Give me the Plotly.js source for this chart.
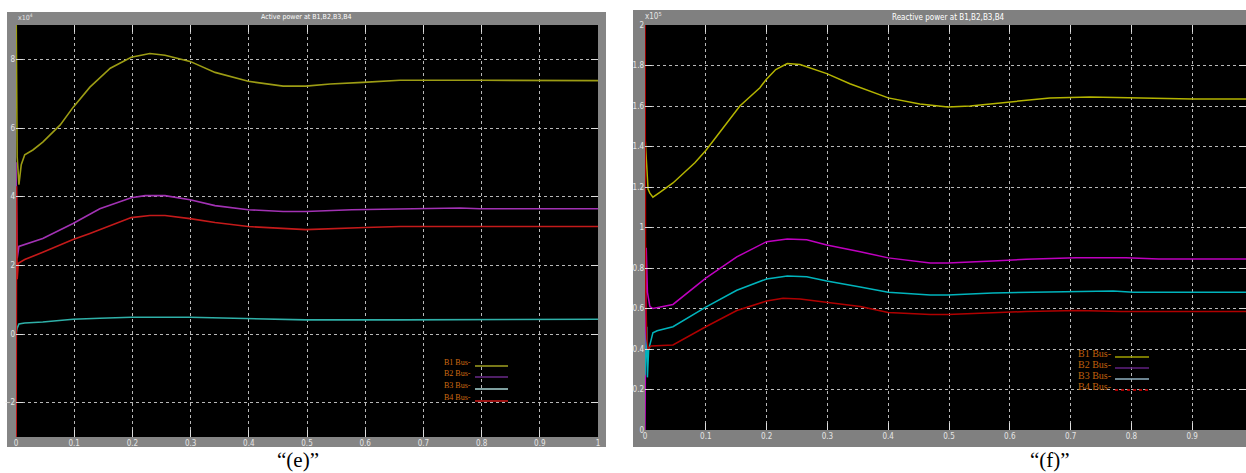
<!DOCTYPE html>
<html>
<head>
<meta charset="utf-8">
<script src="https://cdn.plot.ly/plotly-3.0.1.min.js"></script>
<style>html,body{margin:0;padding:0;background:#fff;}#chart{width:1246px;height:473px;}</style>
</head>
<body>
<div id="chart"></div>
<script>
// ---------- DATA : panel (e) Active power (x10^4) ----------
const eTitle = "Active power at B1,B2,B3,B4";
const fTitle = "Reactive power at B1,B2,B3,B4";
const seriesNames = ["B1 Bus-", "B2 Bus-", "B3 Bus-", "B4 Bus-"];
const xTickVals = [0, 0.1, 0.2, 0.3, 0.4, 0.5, 0.6, 0.7, 0.8, 0.9, 1];
const xTickText = ["0", "0.1", "0.2", "0.3", "0.4", "0.5", "0.6", "0.7", "0.8", "0.9", "1"];
const eYTickVals = [-2, 0, 2, 4, 6, 8];
const fYTickVals = [0, 0.2, 0.4, 0.6, 0.8, 1, 1.2, 1.4, 1.6, 1.8, 2];

const eB1_t = [0, 0.002, 0.005, 0.009, 0.015, 0.029, 0.046, 0.076, 0.098, 0.127, 0.162, 0.198, 0.23, 0.256, 0.299, 0.342, 0.399, 0.459, 0.498, 0.54, 0.596, 0.66, 0.797, 1.0];
const eB1_v = [10, 5.16, 4.35, 4.93, 5.22, 5.36, 5.59, 6.09, 6.6, 7.19, 7.74, 8.06, 8.17, 8.12, 7.94, 7.62, 7.36, 7.22, 7.22, 7.28, 7.33, 7.39, 7.39, 7.38];
const eB2_t = [0, 0.002, 0.005, 0.015, 0.046, 0.098, 0.144, 0.198, 0.222, 0.256, 0.299, 0.342, 0.399, 0.459, 0.498, 0.577, 0.66, 0.763, 0.797, 1.0];
const eB2_v = [5.0, 2.2, 2.55, 2.61, 2.78, 3.22, 3.65, 3.97, 4.03, 4.03, 3.91, 3.74, 3.62, 3.57, 3.57, 3.62, 3.65, 3.67, 3.65, 3.65];
const eB3_t = [0, 0.002, 0.005, 0.015, 0.046, 0.098, 0.144, 0.198, 0.299, 0.399, 0.498, 0.66, 0.93, 0.935, 1.0];
const eB3_v = [0, 0.17, 0.29, 0.32, 0.35, 0.43, 0.46, 0.49, 0.49, 0.46, 0.41, 0.41, 0.41, 0.43, 0.43];
const eB4_t = [0, 0.001, 0.002, 0.004, 0.015, 0.046, 0.098, 0.127, 0.144, 0.198, 0.23, 0.256, 0.299, 0.342, 0.399, 0.459, 0.498, 0.6, 0.66, 1.0];
const eB4_v = [-5, 4.3, 1.6, 2.06, 2.17, 2.38, 2.75, 2.93, 3.04, 3.39, 3.45, 3.45, 3.36, 3.25, 3.13, 3.07, 3.04, 3.10, 3.13, 3.13];

// ---------- DATA : panel (f) Reactive power (x10^5) ----------
const fB1_t = [0, 0.003, 0.004, 0.005, 0.008, 0.013, 0.025, 0.046, 0.082, 0.1, 0.123, 0.156, 0.189, 0.199, 0.215, 0.234, 0.255, 0.299, 0.337, 0.4, 0.452, 0.498, 0.535, 0.599, 0.666, 0.732, 0.799, 0.9, 1.0];
const fB1_v = [1.45, 1.31, 1.22, 1.19, 1.17, 1.15, 1.175, 1.22, 1.32, 1.38, 1.47, 1.60, 1.69, 1.73, 1.78, 1.81, 1.805, 1.76, 1.71, 1.64, 1.61, 1.595, 1.60, 1.62, 1.64, 1.645, 1.64, 1.635, 1.635];
const fB2_t = [0, 0.002, 0.004, 0.008, 0.013, 0.046, 0.1, 0.151, 0.2, 0.234, 0.266, 0.299, 0.354, 0.4, 0.469, 0.498, 0.572, 0.627, 0.709, 0.791, 0.845, 1.0];
const fB2_v = [0, 0.9, 0.68, 0.61, 0.6, 0.62, 0.75, 0.855, 0.93, 0.943, 0.94, 0.914, 0.88, 0.85, 0.825, 0.825, 0.835, 0.843, 0.85, 0.85, 0.845, 0.845];
const fB3_t = [0, 0.003, 0.004, 0.006, 0.008, 0.013, 0.02, 0.046, 0.1, 0.151, 0.2, 0.234, 0.266, 0.299, 0.354, 0.4, 0.469, 0.498, 0.572, 0.627, 0.709, 0.77, 0.803, 1.0];
const fB3_v = [0.27, 0.51, 0.26, 0.395, 0.42, 0.48, 0.49, 0.51, 0.607, 0.69, 0.746, 0.76, 0.757, 0.736, 0.706, 0.68, 0.667, 0.667, 0.677, 0.68, 0.686, 0.686, 0.68, 0.68];
const fB4_t = [0, 0.001, 0.003, 0.005, 0.01, 0.046, 0.1, 0.151, 0.2, 0.227, 0.255, 0.299, 0.354, 0.4, 0.469, 0.498, 0.572, 0.627, 0.712, 0.783, 1.0];
const fB4_v = [2.2, 0.7, 0.45, 0.4, 0.415, 0.42, 0.51, 0.59, 0.637, 0.65, 0.647, 0.63, 0.61, 0.58, 0.57, 0.57, 0.58, 0.585, 0.59, 0.585, 0.585];

// ---------- STYLE ----------
const W = 1246, H = 473;
const px = x => x / W;
const py = y => 1 - y / H;
const eColors = ["#9c9c14", "#a232b4", "#2fb0a8", "#c41a1a"];
const fColors = ["#b4b400", "#bf00bf", "#00b4bc", "#b00000"];
const legColE = ["#a0a020", "#6a2a8a", "#a8d4d4", "#d01818"];
const legColF = ["#a0a000", "#602080", "#90b0c0", "#e00000"];
const narrow = "Liberation Sans Narrow, DejaVu Sans Condensed, Liberation Sans, sans-serif";
const tickFont = {family: narrow, size: 8, color: "#e6e6e6"};

const traces = [];
const eT = [eB1_t, eB2_t, eB3_t, eB4_t], eV = [eB1_v, eB2_v, eB3_v, eB4_v];
const fT = [fB1_t, fB2_t, fB3_t, fB4_t], fV = [fB1_v, fB2_v, fB3_v, fB4_v];
for (let i = 0; i < 4; i++) {
  traces.push({x: eT[i], y: eV[i], type: "scatter", mode: "lines", name: seriesNames[i],
    line: {color: eColors[i], width: 1.6}, xaxis: "x", yaxis: "y", showlegend: false, cliponaxis: true});
}
for (let i = 0; i < 4; i++) {
  traces.push({x: fT[i], y: fV[i], type: "scatter", mode: "lines", name: seriesNames[i],
    line: {color: fColors[i], width: 1.5}, xaxis: "x2", yaxis: "y2", showlegend: false, cliponaxis: true});
}

const axisCommon = {
  showgrid: true, gridcolor: "#b8b8b8", griddash: "dot", gridwidth: 1,
  zeroline: false, showline: false, ticks: "inside", ticklen: 7, tickcolor: "#dcdcdc", tickwidth: 1,
  mirror: "ticks", tickfont: tickFont, fixedrange: true
};

const shapes = [
  {type: "rect", xref: "paper", yref: "paper", x0: px(7), x1: px(606), y0: py(447), y1: py(12), fillcolor: "#858585", line: {width: 0}, layer: "below"},
  {type: "rect", xref: "paper", yref: "paper", x0: px(633), x1: px(1246), y0: py(447), y1: py(10), fillcolor: "#808080", line: {width: 0}, layer: "below"},
  {type: "rect", xref: "paper", yref: "paper", x0: px(16), x1: px(598), y0: py(437), y1: py(25), fillcolor: "#000000", line: {width: 0}, layer: "below"},
  {type: "rect", xref: "paper", yref: "paper", x0: px(645), x1: px(1246), y0: py(430), y1: py(25), fillcolor: "#000000", line: {width: 0}, layer: "below"}
];
function ann(text, x, y, xanchor, font) {
  return {text: text, xref: "paper", yref: "paper", x: px(x), y: py(y), xanchor: xanchor, yanchor: "middle", showarrow: false, font: font};
}
const annotations = [
  ann(eTitle, 306, 17.5, "center", {family: narrow, size: 7, color: "#ffffff"}),
  ann(fTitle, 948, 17.5, "center", {family: narrow, size: 8, color: "#ffffff"}),
  ann("x10<sup>4</sup>", 16, 17, "left", {family: narrow, size: 7, color: "#e6e6e6"}),
  ann("x10<sup>5</sup>", 643, 16, "left", {family: narrow, size: 8, color: "#e6e6e6"}),
  ann("\u201c(e)\u201d", 298, 460, "center", {family: "Liberation Serif, Times New Roman, serif", size: 21, color: "#000000"}),
  ann("\u201c(f)\u201d", 1050, 460, "center", {family: "Liberation Serif, Times New Roman, serif", size: 21, color: "#000000"})
];
const eLegY = [362, 373, 385, 397];
const fLegY = [353, 364, 375, 386];
for (let i = 0; i < 4; i++) {
  annotations.push(ann(seriesNames[i], 473, eLegY[i], "right", {family: "Liberation Serif, serif", size: 8, color: "#d06a10"}));
  shapes.push({type: "line", xref: "paper", yref: "paper", x0: px(475), x1: px(508), y0: py(eLegY[i] + 4), y1: py(eLegY[i] + 4),
    line: {color: legColE[i], width: 1.5}});
  annotations.push(ann(seriesNames[i], 1113, fLegY[i], "right", {family: "Liberation Serif, serif", size: 10, color: "#c0600c"}));
  shapes.push({type: "line", xref: "paper", yref: "paper", x0: px(1115), x1: px(1149), y0: py(fLegY[i] + 4), y1: py(fLegY[i] + 4),
    line: {color: legColF[i], width: 1.5, dash: i === 3 ? "dot" : "solid"}});
}

const layout = {
  width: W, height: H,
  margin: {l: 0, r: 0, t: 0, b: 0, pad: 0},
  paper_bgcolor: "#ffffff",
  plot_bgcolor: "rgba(0,0,0,0)",
  showlegend: false,
  xaxis: Object.assign({}, axisCommon, {domain: [px(16), px(598)], range: [0, 1], tickvals: xTickVals, ticktext: xTickText, anchor: "y"}),
  yaxis: Object.assign({}, axisCommon, {domain: [py(437), py(25)], range: [-3, 9], tickvals: eYTickVals, anchor: "x"}),
  xaxis2: Object.assign({}, axisCommon, {domain: [px(645), 1], range: [0, 601 / 608], tickvals: xTickVals, ticktext: xTickText, anchor: "y2"}),
  yaxis2: Object.assign({}, axisCommon, {domain: [py(430), py(25)], range: [0, 2], tickvals: fYTickVals, anchor: "x2"}),
  shapes: shapes,
  annotations: annotations
};

Plotly.newPlot("chart", traces, layout, {staticPlot: true, displayModeBar: false});
</script>
</body>
</html>
